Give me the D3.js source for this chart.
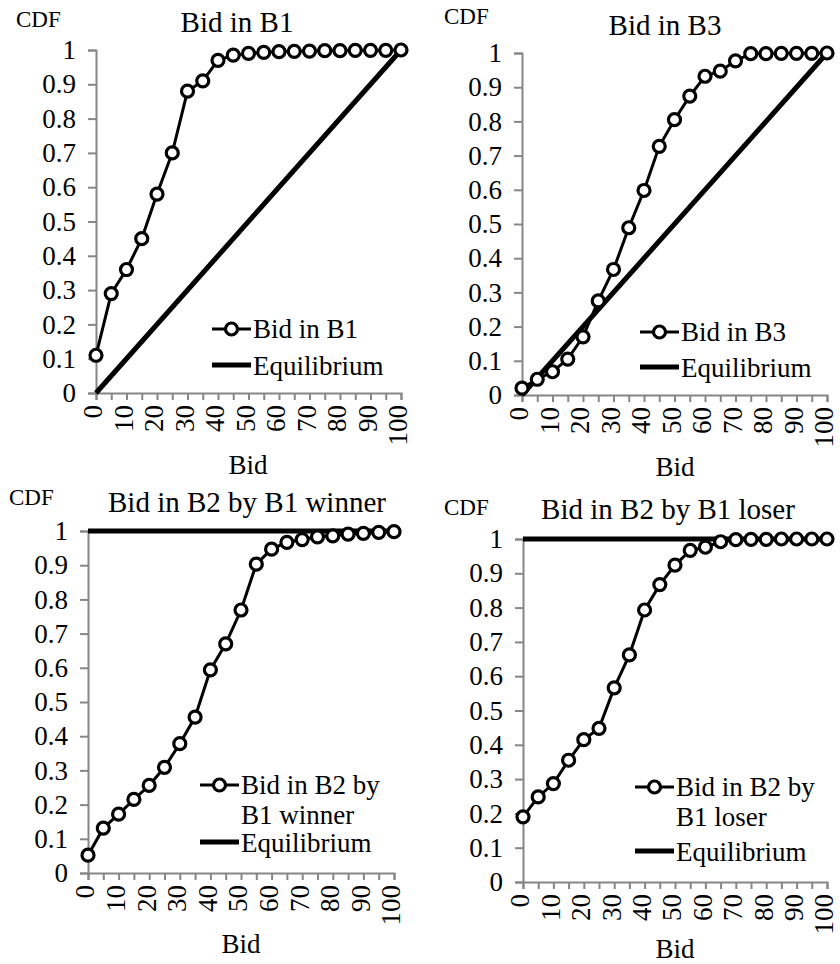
<!DOCTYPE html>
<html lang="en">
<head>
<meta charset="utf-8">
<script src="https://d3js.org/d3.v7.min.js"></script>
<style>
  body { margin: 0; background: #fff; }
  svg text { font-family: "Liberation Serif", "Times New Roman", serif; fill: #000; }
</style>
</head>
<body>
<div id="chart"></div>
<script>
// bid levels (x axis), one point every 5
var bids = [0, 5, 10, 15, 20, 25, 30, 35, 40, 45, 50, 55, 60, 65, 70, 75, 80, 85, 90, 95, 100];
var xTickLabels = [0, 10, 20, 30, 40, 50, 60, 70, 80, 90, 100];
var yTicks = [0, 0.1, 0.2, 0.3, 0.4, 0.5, 0.6, 0.7, 0.8, 0.9, 1];

var cdfB1 = [0.11, 0.29, 0.36, 0.45, 0.58, 0.70, 0.88, 0.91, 0.97, 0.985, 0.99, 0.993, 0.995, 0.996, 0.997, 0.998, 0.998, 0.999, 0.999, 0.999, 1];
var cdfB3 = [0.02, 0.046, 0.068, 0.105, 0.17, 0.275, 0.367, 0.489, 0.598, 0.727, 0.805, 0.874, 0.932, 0.947, 0.977, 0.998, 0.998, 0.999, 0.999, 0.999, 1];
var cdfB2win = [0.052, 0.131, 0.172, 0.215, 0.256, 0.309, 0.378, 0.456, 0.594, 0.670, 0.769, 0.903, 0.947, 0.967, 0.975, 0.983, 0.986, 0.991, 0.993, 0.996, 0.998];
var cdfB2lose = [0.19, 0.248, 0.287, 0.355, 0.415, 0.448, 0.566, 0.662, 0.793, 0.867, 0.924, 0.967, 0.976, 0.992, 0.998, 0.999, 0.999, 1, 1, 1, 1];

// equilibrium CDFs (start/end points)
var eqB1 = [[0, 0], [100, 1]];
var eqB3 = [[0, 0], [100, 1]];
var eqB2 = [[0, 1], [100, 1]];

var titles = ["Bid in B1", "Bid in B3", "Bid in B2 by B1 winner", "Bid in B2 by B1 loser"];
var legendNames = [["Bid in B1"], ["Bid in B3"], ["Bid in B2 by", "B1 winner"], ["Bid in B2 by", "B1 loser"]];

var W = 840, H = 964;
var svg = d3.select("#chart").append("svg").attr("width", W).attr("height", H);

// panel layout: plot box plus legend, title and label positions
var panels = [
  {x0: 96, x1: 401, yTop: 50, yBot: 393, data: cdfB1, eq: eqB1,
   cdf: [16, 27], title: [237, 32], bid: [248, 474], leg: [212, 329, 365]},
  {x0: 522, x1: 827, yTop: 53, yBot: 395, data: cdfB3, eq: eqB3,
   cdf: [444, 24], title: [665, 35], bid: [675, 476], leg: [640, 332, 367]},
  {x0: 88, x1: 394, yTop: 531, yBot: 873, data: cdfB2win, eq: eqB2,
   cdf: [9, 505], title: [247, 512], bid: [241, 953], leg: [200, 785, 842]},
  {x0: 523, x1: 827, yTop: 539, yBot: 882, data: cdfB2lose, eq: eqB2,
   cdf: [444, 515], title: [668, 519], bid: [675, 958], leg: [635, 787, 851]}
];

var axisColor = "#868686";
var fs = 27;

panels.forEach(function(p, i) {
  var x = d3.scaleLinear().domain([0, 100]).range([p.x0, p.x1]);
  var y = d3.scaleLinear().domain([0, 1]).range([p.yBot, p.yTop]);
  var g = svg.append("g");

  // y axis
  var ya = g.append("g")
    .attr("transform", "translate(" + p.x0 + ",0)")
    .call(d3.axisLeft(y).tickValues(yTicks).tickSize(8).tickPadding(12)
      .tickFormat(function(d) { return d3.format("")(+d.toFixed(1)); }));
  ya.select(".domain").attr("stroke", axisColor).attr("stroke-width", 2);
  ya.selectAll(".tick line").attr("stroke", axisColor).attr("stroke-width", 2);
  ya.selectAll(".tick text").attr("font-size", fs);

  // x axis
  var xa = g.append("g")
    .attr("transform", "translate(0," + p.yBot + ")")
    .call(d3.axisBottom(x).tickValues(bids).tickSize(7)
      .tickFormat(function(d) { return xTickLabels.indexOf(d) >= 0 ? d : ""; }));
  xa.select(".domain").attr("stroke", axisColor).attr("stroke-width", 2);
  xa.selectAll(".tick line").attr("stroke", axisColor).attr("stroke-width", 2);
  xa.selectAll(".tick text")
    .attr("font-size", fs)
    .attr("transform", "rotate(-90)")
    .attr("text-anchor", "end")
    .attr("x", -12).attr("y", 0).attr("dy", "0.22em");

  // equilibrium line
  var line = d3.line().x(function(d) { return x(d[0]); }).y(function(d) { return y(d[1]); });
  g.append("path").datum(p.eq)
    .attr("d", line).attr("fill", "none").attr("stroke", "#000").attr("stroke-width", 5);

  // empirical CDF
  var pts = bids.map(function(b, k) { return [b, p.data[k]]; });
  g.append("path").datum(pts)
    .attr("d", line).attr("fill", "none").attr("stroke", "#000").attr("stroke-width", 3);
  g.selectAll("circle").data(pts).enter().append("circle")
    .attr("cx", function(d) { return x(d[0]); })
    .attr("cy", function(d) { return y(d[1]); })
    .attr("r", 6).attr("fill", "#fff").attr("stroke", "#000").attr("stroke-width", 3.2);

  // labels
  g.append("text").attr("x", p.cdf[0]).attr("y", p.cdf[1]).attr("font-size", 23).text("CDF");
  g.append("text").attr("x", p.title[0]).attr("y", p.title[1]).attr("font-size", 29)
    .attr("text-anchor", "middle").text(titles[i]);
  g.append("text").attr("x", p.bid[0]).attr("y", p.bid[1]).attr("font-size", fs)
    .attr("text-anchor", "middle").text("Bid");

  // legend
  var lx = p.leg[0];
  g.append("line").attr("x1", lx).attr("x2", lx + 39).attr("y1", p.leg[1]).attr("y2", p.leg[1])
    .attr("stroke", "#000").attr("stroke-width", 3);
  g.append("circle").attr("cx", lx + 19.5).attr("cy", p.leg[1]).attr("r", 6)
    .attr("fill", "#fff").attr("stroke", "#000").attr("stroke-width", 3.2);
  legendNames[i].forEach(function(t, k) {
    g.append("text").attr("x", lx + 41).attr("y", p.leg[1] + 9 + k * 30)
      .attr("font-size", fs).text(t);
  });
  g.append("line").attr("x1", lx).attr("x2", lx + 39).attr("y1", p.leg[2]).attr("y2", p.leg[2])
    .attr("stroke", "#000").attr("stroke-width", 5);
  g.append("text").attr("x", lx + 41).attr("y", p.leg[2] + 10).attr("font-size", fs).text("Equilibrium");
});
</script>
</body>
</html>
